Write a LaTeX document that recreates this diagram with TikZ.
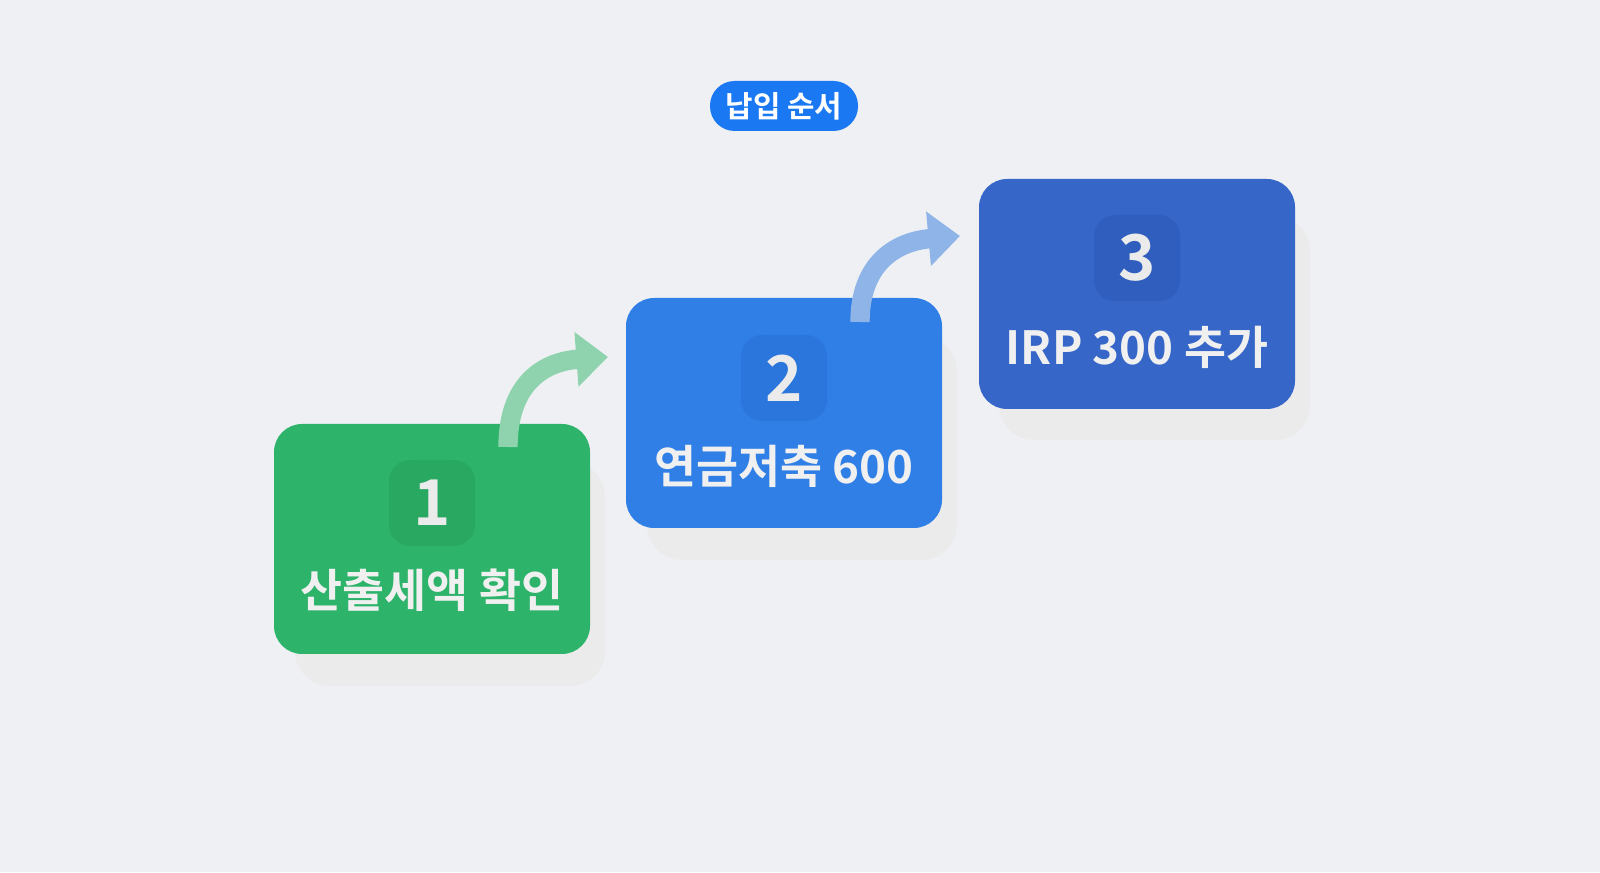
\documentclass[tikz,border=0pt]{standalone}
\usepackage{fontspec}
\setmainfont{Noto Sans CJK KR}[BoldFont={* Bold}]
\usepackage{tikz}
\usetikzlibrary{positioning,arrows.meta}
\definecolor{bgcol}{HTML}{EEF0F4}
\definecolor{greencol}{HTML}{2DB36A}
\definecolor{greendark}{HTML}{29A862}
\definecolor{bluecol}{HTML}{2F7FE6}
\definecolor{bluedark}{HTML}{2B76DC}
\definecolor{navycol}{HTML}{3566C8}
\definecolor{navydark}{HTML}{305EBE}
\definecolor{pillcol}{HTML}{1A78F2}
\definecolor{greenarrow}{HTML}{8ED3AE}
\definecolor{bluearrow}{HTML}{8FB5E8}

\begin{document}
\begin{tikzpicture}[
            stepbox/.style = {rectangle, rounded corners=8pt,
                        minimum width=3.16cm, minimum height=2.3cm},
            badge/.style = {rectangle, rounded corners=6pt,
                        minimum size=0.86cm, text=white!92!black, inner sep=0pt,
                        font=\bfseries\fontsize{18}{18}\selectfont},
            steptext/.style = {text=white!94!black, font=\bfseries\fontsize{13}{13}\selectfont},
            shade/.style = {fill=black!8, rounded corners=10pt},
            flow/.style = {line width=5.5pt, -{Triangle[length=9pt,width=15pt]}}]
            \fill[bgcol] (0,0) rectangle (16,8.72);
            % Title pill
            \node[fill=pillcol, rounded corners=7pt, minimum width=1.48cm,
                  minimum height=0.5cm, inner sep=1pt, text=white,
                  font=\bfseries\fontsize{8.5}{8.5}\selectfont]
                  (title) at (7.84,7.66) {납입 순서};
            % Shadows
            \fill[shade] (2.95,1.86) rectangle (6.05,4.1);
            \fill[shade] (6.47,3.12) rectangle (9.57,5.36);
            \fill[shade] (9.99,4.32) rectangle (13.1,6.56);
            % Step 1
            \node[stepbox, fill=greencol] (s1) at (4.32,3.33) {};
            \node[badge, fill=greendark] (b1) at (4.32,3.69) {1};
            \node[steptext] (t1) at (4.32,2.82) {산출세액 확인};
            % Step 2
            \node[stepbox, fill=bluecol] (s2) at (7.84,4.59) {};
            \node[badge, fill=bluedark] (b2) at (7.84,4.94) {2};
            \node[steptext] (t2) at (7.84,4.06) {연금저축 600};
            % Step 3
            \node[stepbox, fill=navycol] (s3) at (11.37,5.78) {};
            \node[badge, fill=navydark] (b3) at (11.37,6.14) {3};
            \node[steptext] (t3) at (11.37,5.25) {IRP 300 추가};
            % Arrows
            \coordinate (a1) at (5.08,4.25);
            \coordinate (a2) at (8.6,5.5);
            \draw[flow, greenarrow] (a1) .. controls (5.08,4.85) and (5.4,5.1) .. (6.08,5.15);
            \draw[flow, bluearrow] (a2) .. controls (8.6,6.05) and (8.92,6.3) .. (9.6,6.36);
        \end{tikzpicture}
\end{document}
